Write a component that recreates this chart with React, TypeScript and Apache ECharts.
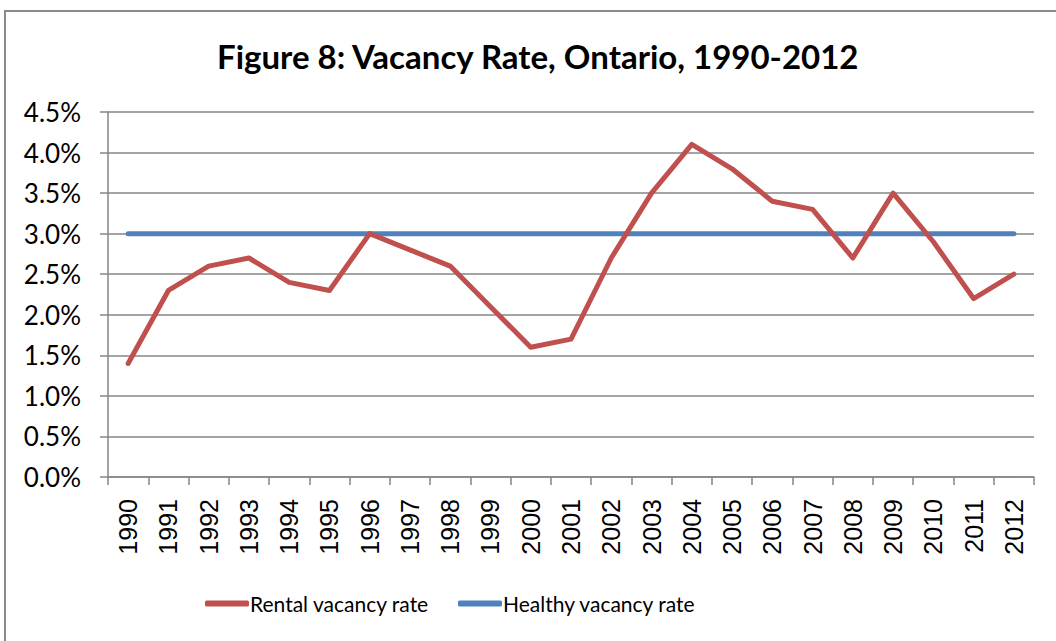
import React, { useEffect, useRef } from "react";
import * as echarts from "echarts";

const years = ["1990","1991","1992","1993","1994","1995","1996","1997","1998","1999","2000","2001","2002","2003","2004","2005","2006","2007","2008","2009","2010","2011","2012"];
const rentalRate = [1.4, 2.3, 2.6, 2.7, 2.4, 2.3, 3.0, 2.8, 2.6, 2.1, 1.6, 1.7, 2.7, 3.5, 4.1, 3.8, 3.4, 3.3, 2.7, 3.5, 2.9, 2.2, 2.5];
const healthyRate = [3.0, 3.0, 3.0, 3.0, 3.0, 3.0, 3.0, 3.0, 3.0, 3.0, 3.0, 3.0, 3.0, 3.0, 3.0, 3.0, 3.0, 3.0, 3.0, 3.0, 3.0, 3.0, 3.0];

const seriesNames = ["Rental vacancy rate", "Healthy vacancy rate"];
const titleText = "Figure 8: Vacancy Rate, Ontario, 1990-2012";

export default function App() {
  const ref = useRef<HTMLDivElement>(null);
  useEffect(() => {
    if (!ref.current) return;
    const chart = echarts.init(ref.current, null, { renderer: "svg" });
    const grey = "#868686";
    const font = "Lato, 'Noto Sans', sans-serif";
    const legendBase = {
      bottom: 22,
      itemWidth: 44,
      itemHeight: 6,
      icon: "roundRect",
      textStyle: { fontFamily: font, fontSize: 21, color: "#000", padding: [0, 0, 0, -4] },
    };
    chart.setOption({
      animation: false,
      backgroundColor: "#ffffff",
      title: {
        text: titleText,
        left: 212,
        top: 34,
        textStyle: { fontFamily: font, fontWeight: "bold", fontSize: 33, color: "#000" },
      },
      graphic: [
        {
          type: "rect",
          shape: { x: 5, y: 11, width: 1100, height: 700 },
          style: { fill: "none", stroke: "#8a8a8a", lineWidth: 2 },
          silent: true,
        },
      ],
      legend: [
        { ...legendBase, left: 200, data: [seriesNames[0]] },
        { ...legendBase, left: 453, data: [seriesNames[1]] },
      ],
      grid: { left: 108, right: 22, top: 112, bottom: 164, containLabel: false },
      xAxis: {
        type: "category",
        data: years,
        boundaryGap: true,
        axisLine: { lineStyle: { color: grey, width: 1.5 } },
        axisTick: { show: true, length: 8, alignWithLabel: false, lineStyle: { color: grey, width: 1.5 } },
        axisLabel: {
          rotate: 90,
          interval: 0,
          margin: 22,
          fontFamily: "'Liberation Sans', Arial, sans-serif",
          fontSize: 25,
          color: "#000",
        },
      },
      yAxis: {
        type: "value",
        min: 0,
        max: 4.5,
        interval: 0.5,
        axisLine: { show: true, lineStyle: { color: grey, width: 1.5 } },
        axisTick: { show: true, length: 8, lineStyle: { color: grey, width: 1.5 } },
        splitLine: { show: true, lineStyle: { color: grey, width: 1.5 } },
        axisLabel: {
          margin: 27,
          fontFamily: font,
          fontSize: 26,
          color: "#000",
          formatter: (v: number) => v.toFixed(1) + "%",
        },
      },
      series: [
        {
          name: seriesNames[0],
          type: "line",
          data: rentalRate,
          symbol: "none",
          color: "#C0504D",
          lineStyle: { width: 5, color: "#C0504D", cap: "round", join: "round" },
          z: 3,
        },
        {
          name: seriesNames[1],
          type: "line",
          data: healthyRate,
          symbol: "none",
          color: "#4F81BD",
          lineStyle: { width: 5, color: "#4F81BD", cap: "round", join: "round" },
          z: 2,
        },
      ],
    });
    return () => chart.dispose();
  }, []);
  return (
    <div
      ref={ref}
      style={{ position: "fixed", left: 0, top: 0, width: 1056, height: 641 }}
    />
  );
}
